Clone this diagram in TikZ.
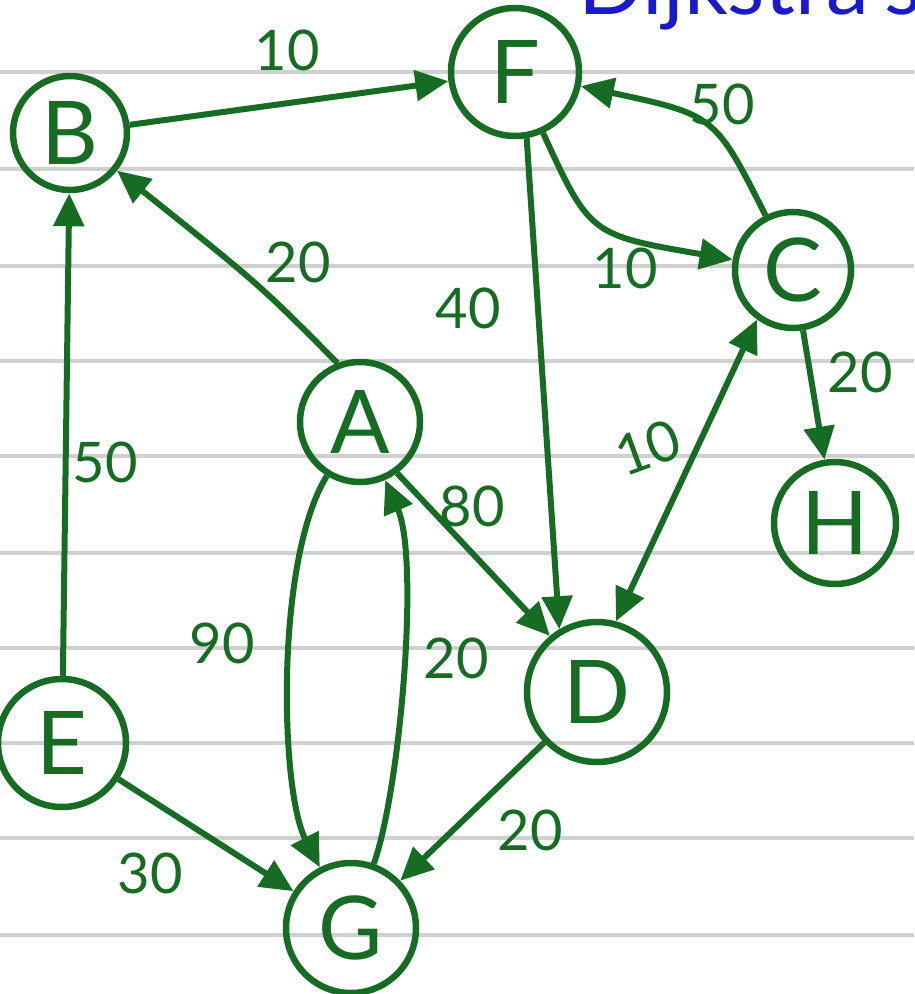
\documentclass[tikz,border=0pt]{standalone}
\usepackage{fontspec}
\setmainfont{Lato}
\usetikzlibrary{arrows.meta}
\definecolor{pen}{RGB}{22,108,34}
\definecolor{ink}{RGB}{25,25,205}
\definecolor{paperline}{RGB}{208,208,208}
\begin{document}
\begin{tikzpicture}[x=1pt,y=-1pt,
  >={Triangle[length=33pt,width=30pt]},
  vert/.style={circle,draw=pen,line width=6.5pt,inner sep=0pt,text=pen,font=\fontsize{88}{88}\selectfont},
  edge/.style={draw=pen,line width=6pt,->},
  wt/.style={text=pen,font=\fontsize{56}{56}\selectfont,inner sep=0pt},
  ruling/.style={draw=paperline,line width=4pt}]
\useasboundingbox (0,0) rectangle (914,994);
\clip (0,0) rectangle (914,994);
\fill[white] (0,0) rectangle (914,994);
\foreach \yy in {72,169,266,361,456,553,648,743,838,935}
  \draw[ruling] (0,\yy) -- (914,\yy);

\node[anchor=base west,text=ink,font=\fontsize{86}{86}\selectfont,inner sep=0pt] (title) at (578,14) {Dijkstra's};

\node[vert,minimum size=114pt] (B) at (70,133) {B};
\node[vert,minimum size=128pt] (F) at (515,72) {F};
\node[vert,minimum size=116pt] (C) at (793,270) {C};
\node[vert,minimum size=120pt] (A) at (360,422) {A};
\node[vert,minimum size=122pt] (H) at (835,523) {H};
\node[vert,minimum size=128pt] (E) at (62,743) {E};
\node[vert,minimum size=140pt] (D) at (597,692) {D};
\node[vert,minimum size=130pt] (G) at (351,928) {G};

\draw[edge] (B) -- (F);
\draw[edge] (A.111) .. controls (260,285) .. (B);
\draw[edge] (E) -- (B);
\draw[edge] (F.280) -- (D.121);
\draw[edge] (F) .. controls (590,235) .. (C);
\draw[edge] (C) .. controls (715,115) .. (F);
\draw[edge,<->] (C.234) -- (D.75);
\draw[edge] (C) -- (H);
\draw[edge] (A.306) -- (D.130);
\draw[edge] (A) .. controls (275,560) and (280,790) .. (G);
\draw[edge] (G) .. controls (400,790) and (420,560) .. (A);
\draw[edge] (E) -- (G);
\draw[edge] (D) -- (G);

\node[wt] (wBF) at (287,50) {10};
\node[wt] (wAB) at (298,262) {20};
\node[wt] (wEB) at (105,462) {50};
\node[wt] (wFD) at (468,308) {40};
\node[wt] (wFC) at (625,268) {10};
\node[wt] (wCF) at (722,104) {50};
\node[wt,rotate=20] (wCD) at (648,448) {10};
\node[wt] (wCH) at (860,372) {20};
\node[wt] (wAD) at (472,506) {80};
\node[wt] (wAG) at (222,643) {90};
\node[wt] (wGA) at (456,658) {20};
\node[wt] (wDG) at (530,830) {20};
\node[wt] (wEG) at (150,873) {30};
\end{tikzpicture}
\end{document}
